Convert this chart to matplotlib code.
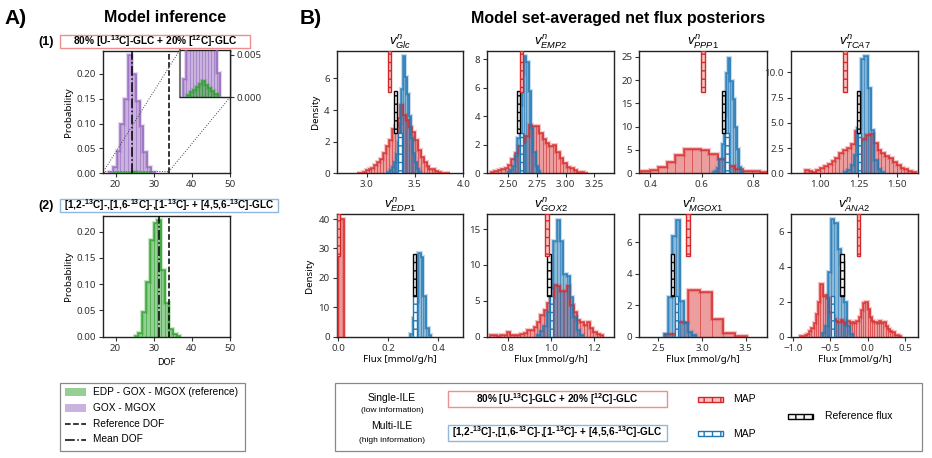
import numpy as np
import matplotlib
matplotlib.use('Agg')
import matplotlib.pyplot as plt
from matplotlib.patches import Rectangle
from matplotlib.lines import Line2D
from matplotlib.colors import to_rgba
from mpl_toolkits.axes_grid1.inset_locator import mark_inset

plt.rcParams['font.family'] = ['Noto Sans', 'DejaVu Sans']
plt.rcParams['mathtext.fontset'] = 'custom'
plt.rcParams['mathtext.rm'] = 'Liberation Sans'
plt.rcParams['mathtext.it'] = 'Liberation Sans:italic'
plt.rcParams['mathtext.bf'] = 'Liberation Sans:bold'
plt.rcParams['hatch.linewidth'] = 1.0

# ---------------- data: panel A (DOF distributions) ----------------
dof_purple_start, dof_purple_width = 18.3, 1.0
dof_purple = [0.0022, 0.013, 0.045, 0.10, 0.15, 0.237, 0.20, 0.145, 0.095, 0.042, 0.012, 0.0028]
dof_green1_start, dof_green1_width = 19.5, 1.0
dof_green1 = [0.0003, 0.0006, 0.0009, 0.0012, 0.0016, 0.0019, 0.0015, 0.0011, 0.0007, 0.0004]
dof_green2_start, dof_green2_width = 25.0, 1.0
dof_green2 = [0.002, 0.008, 0.048, 0.104, 0.184, 0.217, 0.222, 0.127, 0.065, 0.015, 0.005, 0.002]
ref_dof = 34.0
mean_dof = [24.2, 31.3]

# ---------------- data: panel B (flux posteriors) ----------------
titles = [r'$v^{n}_{Glc}$', r'$v^{n}_{EMP2}$', r'$v^{n}_{PPP1}$', r'$v^{n}_{TCA7}$',
          r'$v^{n}_{EDP1}$', r'$v^{n}_{GOX2}$', r'$v^{n}_{MGOX1}$', r'$v^{n}_{ANA2}$']

glc_red = [0.05, 0.05, 0.1, 0.2, 0.3, 0.35, 0.5, 0.7, 0.9, 1.3, 1.7, 2.1, 2.8, 3.0, 3.5, 4.3,
           3.7, 3.4, 2.9, 2.6, 2.1, 1.5, 1.0, 0.7, 0.45, 0.3, 0.25, 0.15, 0.1, 0.05, 0.05, 0.03]
glc_blue = [0.05, 0.1, 0.2, 0.4, 0.7, 1.2, 2.0, 3.2, 5.3, 7.4, 6.1, 5.0, 3.6, 2.2, 1.3, 0.7, 0.3, 0.1]
emp2_red = [0.1, 0.15, 0.2, 0.3, 0.4, 0.6, 1.0, 1.4, 1.9, 2.2, 2.6, 3.4, 3.3, 3.3, 2.8, 2.4, 2.1,
            1.9, 2.0, 1.5, 1.1, 0.7, 0.45, 0.35, 0.2, 0.12, 0.08, 0.05]
emp2_blue = [0.1, 0.2, 0.5, 1.2, 2.5, 4.8, 7.0, 8.2, 7.8, 5.8, 3.2, 1.5, 0.5, 0.15]
ppp1_red = [0.4, 0.7, 1.4, 2.5, 4.0, 5.2, 5.3, 5.1, 4.2, 3.0, 1.6, 1.0, 0.5, 0.4, 0.3]
ppp1_blue = [0.2, 0.5, 1.2, 3.0, 6.3, 12.4, 21.6, 24.8, 19.8, 15.9, 9.9, 5.2, 1.3, 0.3]
tca7_red = [0.3, 0.2, 0.15, 0.3, 0.5, 0.7, 0.9, 1.2, 1.5, 2.0, 2.3, 2.5, 2.9, 4.2, 3.3, 3.4, 3.8,
            3.9, 3.0, 2.3, 2.0, 1.7, 1.5, 1.1, 0.8, 0.55, 0.4, 0.25, 0.15]
tca7_blue = [0.1, 0.3, 0.8, 1.8, 4.5, 11.3, 11.6, 8.5, 4.3, 1.3, 0.4, 0.1]
edp1_red = [40.0]
edp1_blue = [0.8, 6.2, 11.9, 28.6, 27.2, 14.0, 2.8, 0.5]
gox2_red = [0.2, 0.2, 0.1, 0.3, 0.3, 0.6, 0.3, 0.2, 0.3, 0.4, 0.5, 0.9, 0.9, 1.4, 2.1, 3.0, 3.7,
            4.7, 5.5, 7.2, 7.0, 6.3, 6.3, 7.0, 4.4, 3.5, 2.3, 2.1, 1.6, 2.1, 1.2, 0.7, 0.4, 0.2]
gox2_blue = [0.3, 0.8, 1.5, 3.5, 6.8, 13.3, 16.3, 13.3, 8.7, 8.5, 5.5, 2.8, 1.0, 0.3]
mgox1_red = [0.2, 0.95, 2.95, 2.85, 1.1, 0.25, 0.05]
mgox1_blue = [0.2, 2.5, 6.4, 7.45, 2.3, 0.85, 0.3, 0.1]
ana2_red = [0.05, 0.05, 0.1, 0.15, 0.3, 0.5, 0.8, 1.3, 2.0, 3.0, 2.3, 2.4, 2.2, 1.4, 1.2, 1.0, 0.9,
            0.85, 0.95, 0.85, 0.75, 0.9, 0.8, 0.85, 0.8, 0.9, 1.1, 1.5, 1.9, 2.0, 1.6, 1.1, 0.9,
            0.85, 0.8, 0.9, 0.8, 0.85, 0.6, 0.45, 0.35, 0.25, 0.12, 0.08, 0.05]
ana2_blue = [0.2, 0.6, 3.7, 6.7, 6.5, 5.0, 4.2, 2.0, 0.6, 0.15]

red_hists = [glc_red, emp2_red, ppp1_red, tca7_red, edp1_red, gox2_red, mgox1_red, ana2_red]
red_bins = [(2.90, 0.03), (2.35, 0.03), (0.365, 0.033), (0.90, 0.025),
            (0.0, 0.022), (0.719, 0.0155), (2.576, 0.133), (-0.90, 0.03)]
blue_hists = [glc_blue, emp2_blue, ppp1_blue, tca7_blue, edp1_blue, gox2_blue, mgox1_blue, ana2_blue]
blue_bins = [(3.20, 0.02), (2.50, 0.02), (0.643, 0.0085), (1.155, 0.022),
             (0.288, 0.0105), (0.935, 0.0155), (2.563, 0.046), (-0.613, 0.0423)]

map_single = [3.234, 2.615, 0.604, 1.163, 0.0, 0.982, 2.842, -0.123]
map_multi = [3.345, 2.615, 0.699, 1.257, 0.307, 1.005, 2.71, -0.47]
ref_flux = [3.297, 2.59, 0.684, 1.25, 0.304, 0.993, 2.664, -0.345]

xlims = [(2.69, 4.0), (2.32, 3.42), (0.358, 0.852), (0.81, 1.64),
         (-0.0064, 0.5), (0.705, 1.295), (2.283, 3.737), (-1.023, 0.678)]
ylims = [(0, 7.75), (0, 8.6), (0, 26.3), (0, 12.15), (0, 41.7), (0, 17.1), (0, 7.8), (0, 7.0)]
xticks = [[3.0, 3.5, 4.0], [2.50, 2.75, 3.00, 3.25], [0.4, 0.6, 0.8], [1.00, 1.25, 1.50],
          [0.0, 0.2, 0.4], [0.8, 1.0, 1.2], [2.5, 3.0, 3.5], [-1.0, -0.5, 0.0, 0.5]]
yticks = [[0, 2, 4, 6], [0, 2, 4, 6, 8], [0, 5, 10, 15, 20, 25], [0.0, 2.5, 5.0, 7.5, 10.0],
          [0, 10, 20, 30, 40], [0, 5, 10, 15], [0, 2, 4, 6], [0, 2, 4, 6]]

label_single = r'80% [U-$^{\mathbf{13}}$C]-GLC + 20% [$^{\mathbf{12}}$C]-GLC'
label_multi = (r'[1,2-$^{\mathbf{13}}$C]-,[1,6-$^{\mathbf{13}}$C]-,[1-$^{\mathbf{13}}$C]- + '
               r'[4,5,6-$^{\mathbf{13}}$C]-GLC')

RED = '#d62728'
BLUE = '#1f77b4'
GREEN = '#2ca02c'
PURPLE = '#9467bd'
ARIAL = 'Liberation Sans'

W, H = 932, 458
fig = plt.figure(figsize=(W / 100, H / 100), dpi=100)


def fx(x):
    return x / W


def fy(y):
    return 1 - y / H


def axes_px(l, t, r, b):
    return fig.add_axes([fx(l), fy(b), (r - l) / W, (b - t) / H])


def style(ax):
    for s in ax.spines.values():
        s.set_linewidth(1.0)
        s.set_color('#222222')
    ax.tick_params(labelsize=7, length=3, width=0.8, pad=2, colors='#333333')


def hist(ax, start, width, heights, color, alpha=0.5):
    h = np.asarray(heights, float)
    edges = start + width * np.arange(len(h) + 1)
    ax.bar(edges[:-1], h, width=width, align='edge', color=to_rgba(color, alpha),
           edgecolor=to_rgba(color, 0.45), linewidth=0.6, zorder=2)
    ax.stairs(h, edges, color=color, lw=3.0, alpha=0.25, zorder=3)
    ax.stairs(h, edges, color=color, lw=1.3, alpha=0.75, zorder=3)


def marker(ax, x, y0, y1, color, face):
    xl = ax.get_xlim()
    w = 0.028 * (xl[1] - xl[0])
    ax.add_patch(Rectangle((x - w / 2, y0), w, y1 - y0, transform=ax.get_xaxis_transform(),
                           facecolor=face, edgecolor=color, hatch='--', lw=1.0, zorder=6))


# ---------------- panel A ----------------
fig.text(fx(4), fy(18), 'A)', fontsize=15, weight='bold', family=ARIAL, va='center', ha='left')
fig.text(fx(165), fy(18), 'Model inference', fontsize=11.5, weight='bold', family=ARIAL,
         va='center', ha='center')

for y, lab, txt, ec, right, fs in [(41.5, '(1)', label_single, '#ec8f8f', 250, 7.3),
                                   (205.5, '(2)', label_multi, '#8fb8de', 278, 7.2)]:
    fig.text(fx(46), fy(y), lab, fontsize=9, weight='bold', family=ARIAL, ha='center', va='center')
    fig.add_artist(Rectangle((fx(60), fy(y + 6.7)), (right - 60) / W, 13.4 / H,
                             transform=fig.transFigure, facecolor='white', edgecolor=ec, lw=1.0))
    fig.text(fx((60 + right) / 2), fy(y), txt, fontsize=fs, weight='bold', family=ARIAL,
             ha='center', va='center')

axA1 = axes_px(103.3, 50.5, 230, 173.3)
hist(axA1, dof_purple_start, dof_purple_width, dof_purple, PURPLE, 0.5)
hist(axA1, dof_green1_start, dof_green1_width, dof_green1, GREEN, 0.5)
axA1.axvline(ref_dof, color='k', ls='--', lw=1.1, zorder=4)
axA1.axvline(mean_dof[0], color='k', ls='-.', lw=1.1, zorder=4)
axA1.set_xlim(16.8, 50)
axA1.set_ylim(0, 0.247)
axA1.set_xticks([20, 30, 40, 50])
axA1.set_yticks([0, 0.05, 0.10, 0.15, 0.20])
axA1.set_ylabel('Probability', fontsize=7, labelpad=3)
style(axA1)

axins = axes_px(179.5, 50.5, 230, 97.3)
hist(axins, dof_purple_start, dof_purple_width, dof_purple, PURPLE, 0.5)
hist(axins, dof_green1_start, dof_green1_width, dof_green1, GREEN, 0.5)
axins.set_xlim(17, 33.6)
axins.set_ylim(0, 0.0055)
axins.set_xticks([])
axins.yaxis.tick_right()
axins.set_yticks([0, 0.005])
style(axins)
axins.spines['left'].set_color('#777777')
axins.spines['left'].set_linewidth(1.5)
mark_inset(axA1, axins, loc1=2, loc2=4, fc='none', ec='#444444', ls=':', lw=0.7)

axA2 = axes_px(103.3, 216, 230, 336.7)
hist(axA2, dof_green2_start, dof_green2_width, dof_green2, GREEN, 0.5)
axA2.axvline(ref_dof, color='k', ls='--', lw=1.1, zorder=4)
axA2.axvline(mean_dof[1], color='k', ls='-.', lw=1.1, zorder=4)
axA2.set_xlim(16.8, 50)
axA2.set_ylim(0, 0.23)
axA2.set_xticks([20, 30, 40, 50])
axA2.set_yticks([0, 0.05, 0.10, 0.15, 0.20])
axA2.set_ylabel('Probability', fontsize=7, labelpad=3)
axA2.set_xlabel('DOF', fontsize=6.5, labelpad=4)
style(axA2)

# legend A
fig.add_artist(Rectangle((fx(60), fy(450.7)), 185 / W, 68 / H, transform=fig.transFigure,
                         facecolor='white', edgecolor='#888888', lw=0.9))
leg_rows = [392.3, 408.3, 423.8, 439.5]
for yy, col in [(leg_rows[0], GREEN), (leg_rows[1], PURPLE)]:
    fig.add_artist(Rectangle((fx(65), fy(yy + 4)), 21 / W, 8 / H, transform=fig.transFigure,
                             facecolor=col, alpha=0.5, edgecolor='none'))
fig.add_artist(Line2D([fx(65), fx(86)], [fy(leg_rows[2])] * 2, color='k', ls='--', lw=1.1,
                      transform=fig.transFigure))
fig.add_artist(Line2D([fx(65), fx(86)], [fy(leg_rows[3])] * 2, color='k', ls='-.', lw=1.1,
                      transform=fig.transFigure))
for yy, t in zip(leg_rows, ['EDP - GOX - MGOX (reference)', 'GOX - MGOX', 'Reference DOF', 'Mean DOF']):
    fig.text(fx(93), fy(yy), t, fontsize=7.3, family=ARIAL, va='center', ha='left')

# ---------------- panel B ----------------
fig.text(fx(300), fy(18), 'B)', fontsize=15, weight='bold', family=ARIAL, va='center', ha='left')
fig.text(fx(618), fy(18), 'Model set-averaged net flux posteriors', fontsize=11.5, weight='bold',
         family=ARIAL, va='center', ha='center')

col_l = [336.7, 487.3, 639.3, 791.0]
col_r = [463.3, 614.0, 766.7, 918.3]
row_t = [50.7, 214.0]
row_b = [173.3, 336.7]

for i in range(8):
    r, c = divmod(i, 4)
    ax = axes_px(col_l[c], row_t[r], col_r[c], row_b[r])
    ax.set_xlim(*xlims[i])
    ax.set_ylim(*ylims[i])
    rs, rw = red_bins[i]
    bs, bw = blue_bins[i]
    hist(ax, rs, rw, red_hists[i], RED, 0.45)
    hist(ax, bs, bw, blue_hists[i], BLUE, 0.5)
    marker(ax, map_multi[i], 0.0, 0.33, BLUE, 'white')
    marker(ax, ref_flux[i], 0.33, 0.67, 'black', '#f4f4f4')
    marker(ax, map_single[i], 0.66, 1.0, RED, '#f6c4c4')
    ax.set_xticks(xticks[i])
    ax.set_yticks(yticks[i])
    ax.set_title(titles[i], fontsize=9.5, pad=2)
    if c == 0:
        ax.set_ylabel('Density', fontsize=7, labelpad=3)
    if r == 1:
        ax.set_xlabel('Flux [mmol/g/h]', fontsize=7, labelpad=2)
    style(ax)

# legend B
fig.add_artist(Rectangle((fx(335), fy(451)), 587 / W, 68 / H, transform=fig.transFigure,
                         facecolor='white', edgecolor='#888888', lw=0.9))
fig.text(fx(392), fy(398), 'Single-ILE', fontsize=7.5, family=ARIAL, ha='center', va='center')
fig.text(fx(392), fy(411), '(low information)', fontsize=6, family=ARIAL, ha='center', va='center')
fig.text(fx(392), fy(426), 'Multi-ILE', fontsize=7.5, family=ARIAL, ha='center', va='center')
fig.text(fx(392), fy(440), '(high information)', fontsize=6, family=ARIAL, ha='center', va='center')
for yy, txt, ec in [(399, label_single, '#ec8f8f'), (432.5, label_multi, '#8fb8de')]:
    fig.add_artist(Rectangle((fx(448), fy(yy + 8)), 219 / W, 16 / H, transform=fig.transFigure,
                             facecolor='white', edgecolor=ec, lw=1.0))
    fig.text(fx(557.5), fy(yy), txt, fontsize=7.2, weight='bold', family=ARIAL,
             ha='center', va='center')
for xx, yy, col, face in [(698, 399, RED, '#f6c4c4'), (698, 433.5, BLUE, 'white'),
                          (788, 416, 'black', '#f4f4f4')]:
    fig.add_artist(Rectangle((fx(xx), fy(yy + 2.5)), 25 / W, 5 / H, transform=fig.transFigure,
                             facecolor=face, edgecolor=col, hatch='||', lw=1.0))
fig.text(fx(733), fy(399), 'MAP', fontsize=7.5, family=ARIAL, ha='left', va='center')
fig.text(fx(733), fy(434), 'MAP', fontsize=7.5, family=ARIAL, ha='left', va='center')
fig.text(fx(825), fy(416), 'Reference flux', fontsize=7.5, family=ARIAL, ha='left', va='center')

fig.savefig('out.png', dpi=100)
